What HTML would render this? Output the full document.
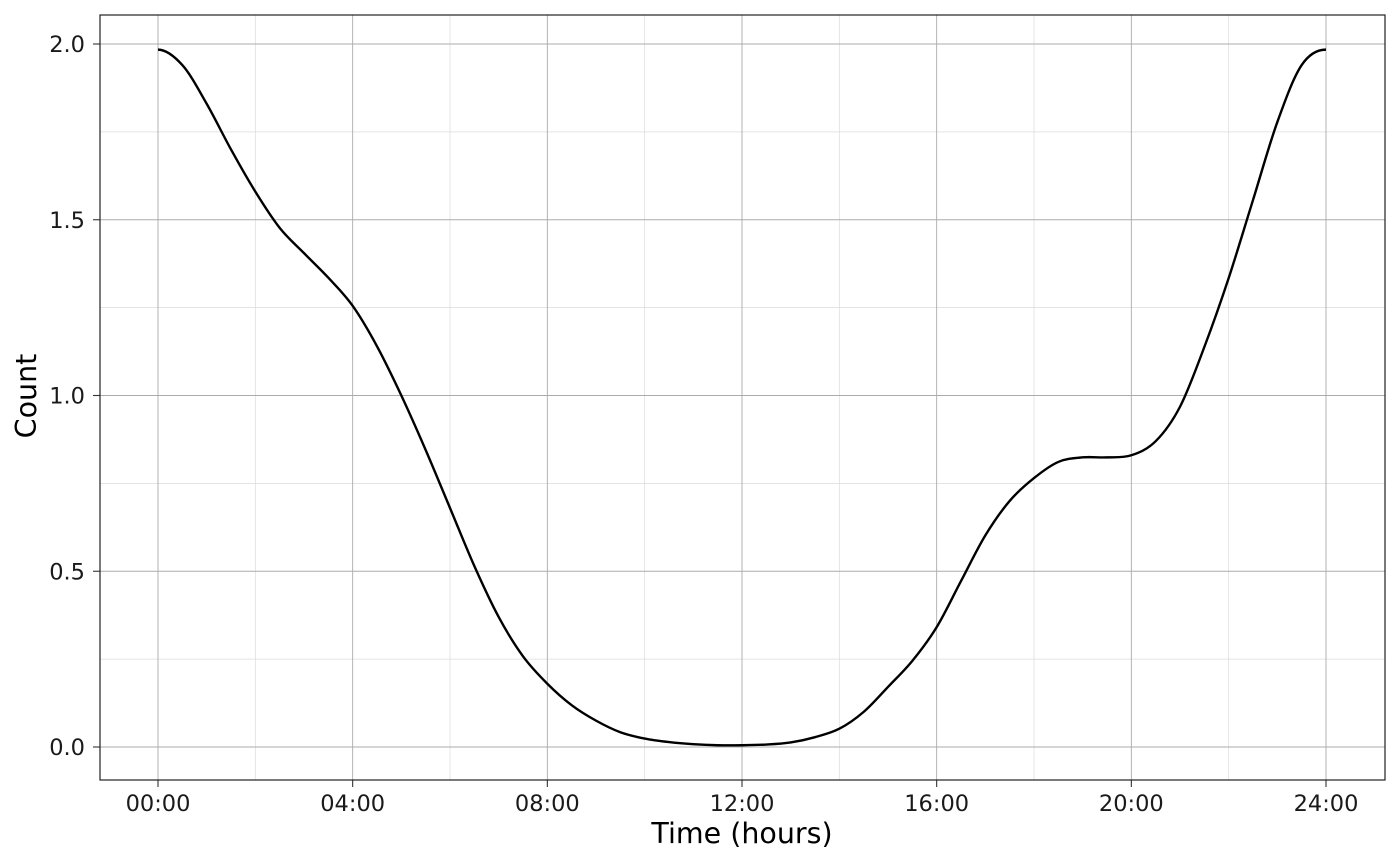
<!DOCTYPE html>
<html><head><meta charset="utf-8"><style>
body{margin:0;background:#fff;}
svg{display:block;font-family:"DejaVu Sans","Liberation Sans",sans-serif;}
</style></head><body>
<svg id="chart" width="1400" height="865" xmlns="http://www.w3.org/2000/svg"></svg>
<script>
const hours = [0,0.5,1,1.5,2,2.5,3,3.5,4,4.5,5,5.5,6,6.5,7,7.5,8,8.5,9,9.5,10,10.5,11,11.5,12,12.5,13,13.5,14,14.5,15,15.5,16,16.5,17,17.5,18,18.5,19,19.5,20,20.5,21,21.5,22,22.5,23,23.5,24];
const counts = [1.984,1.94,1.83,1.70,1.58,1.477,1.405,1.335,1.255,1.14,1.0,0.845,0.68,0.515,0.37,0.258,0.18,0.119,0.075,0.042,0.024,0.014,0.008,0.005,0.005,0.007,0.013,0.028,0.052,0.10,0.171,0.245,0.341,0.472,0.602,0.70,0.765,0.811,0.824,0.824,0.83,0.87,0.968,1.138,1.334,1.556,1.778,1.94,1.984];
const xTicks = [0,4,8,12,16,20,24];
const xTickLabels = ["00:00","04:00","08:00","12:00","16:00","20:00","24:00"];
const yTicks = [0,0.5,1,1.5,2];
const yTickLabels = ["0.0","0.5","1.0","1.5","2.0"];

const NS="http://www.w3.org/2000/svg";
const svg=document.getElementById('chart');
const L=100,R=1385,T=15,B=780;
const xs=h=>158+(1326-158)*h/24;
const ys=v=>747-(747-44)*v/2;
function mk(tag,attrs,parent){const e=document.createElementNS(NS,tag);for(const k in attrs)e.setAttribute(k,attrs[k]);(parent||svg).appendChild(e);return e;}

const grid=mk('g',{});


for(let h=2;h<24;h+=4){const l=mk('line',{x1:xs(h),x2:xs(h),y1:T,y2:B,stroke:'#dcdcdc','stroke-width':0.7},grid);}
for(let v=0.25;v<2.1;v+=0.5){const l=mk('line',{x1:L,x2:R,y1:ys(v),y2:ys(v),stroke:'#dcdcdc','stroke-width':0.7},grid);}
xTicks.forEach((h,i)=>{
  const l=mk('line',{x1:xs(h),x2:xs(h),y1:T,y2:B,stroke:'#ababab','stroke-width':0.9},grid);
  
  
  const t=mk('line',{x1:xs(h),x2:xs(h),y1:B,y2:B+7,stroke:'#333','stroke-width':1.1});
  
  
  const tx=mk('text',{x:xs(h),y:811,'text-anchor':'middle','font-size':22.5,fill:'#1a1a1a'});
  tx.textContent=xTickLabels[i];
  
  
});
yTicks.forEach((v,i)=>{
  const l=mk('line',{x1:L,x2:R,y1:ys(v),y2:ys(v),stroke:'#ababab','stroke-width':0.9},grid);
  
  
  const t=mk('line',{x1:L-7,x2:L,y1:ys(v),y2:ys(v),stroke:'#333','stroke-width':1.1});
  
  
  const tx=mk('text',{x:85,y:ys(v)+8,'text-anchor':'end','font-size':22.5,fill:'#1a1a1a'});
  tx.textContent=yTickLabels[i];
  
  
});
const pts=hours.map((h,i)=>[xs(h),ys(counts[i])]);
let d='M'+pts[0][0]+','+pts[0][1];
const n=pts.length;
for(let i=0;i<n-1;i++){
  const p1=pts[i],p2=pts[i+1];
  let c1,c2;
  if(i===0){c1=[p1[0]+(p2[0]-p1[0])/3,p1[1]];}
  else{const p0=pts[i-1];c1=[p1[0]+(p2[0]-p0[0])/6,p1[1]+(p2[1]-p0[1])/6];}
  if(i===n-2){c2=[p2[0]-(p2[0]-p1[0])/3,p2[1]];}
  else{const p3=pts[i+2];c2=[p2[0]-(p3[0]-p1[0])/6,p2[1]-(p3[1]-p1[1])/6];}
  d+=` C${c1[0]},${c1[1]} ${c2[0]},${c2[1]} ${p2[0]},${p2[1]}`;
}
const path=mk('path',{d:d,fill:'none',stroke:'#000','stroke-width':2.4});


const frame=mk('rect',{x:L,y:T,width:R-L,height:B-T,fill:'none',stroke:'#222','stroke-width':1.2});


const xt=mk('text',{x:742,y:843,'text-anchor':'middle','font-size':28.5,fill:'#000'});
xt.textContent='Time (hours)';


const yt=mk('text',{x:0,y:0,'text-anchor':'middle','font-size':28.5,fill:'#000',transform:'translate(36,396) rotate(-90)'});
yt.textContent='Count';


</script>
</body></html>
